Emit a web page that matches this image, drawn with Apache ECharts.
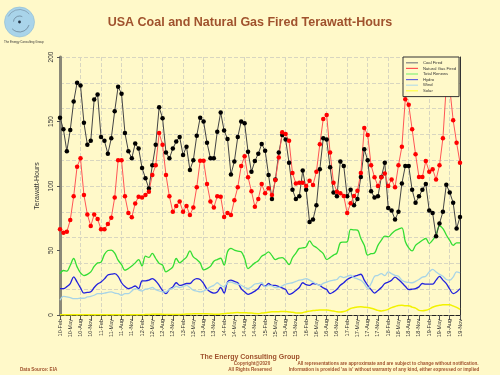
<!DOCTYPE html>
<html>
<head>
<meta charset="utf-8">
<script src="https://cdn.jsdelivr.net/npm/echarts@6/dist/echarts.min.js"></script>
<style>
  html, body { margin: 0; padding: 0; background: #FFF9C9; }
  #chart { width: 500px; height: 375px; }
</style>
</head>
<body>
<div id="chart"></div>
<script>
// monthly data, Feb 2010 .. Nov 2019 (TWh)
const monthNames = ['Jan', 'Feb', 'Mar', 'Apr', 'May', 'Jun', 'Jul', 'Aug', 'Sep', 'Oct', 'Nov', 'Dec'];

const coal = [
  153, 144, 127, 143.5, 165.5, 180, 178, 149, 132, 135,
  167, 171, 138, 135, 125, 137, 158, 177, 171.5, 141,
  127, 121.5, 133, 129, 114, 106, 98, 116, 132, 161,
  152.5, 126, 121.5, 129, 134.5, 138, 124, 130.5, 112.5, 120,
  139, 153, 150, 133.6, 121.5, 121.5, 142, 157, 143, 136.5,
  109, 119, 138, 150, 148.7, 126.6, 111, 119.4, 125, 132.6,
  127.4, 108.5, 90, 105, 126, 139.6, 136, 118, 97, 90,
  92, 112, 97, 72, 74, 85, 113, 137, 136, 114.5,
  95, 92, 119, 115.5, 92, 97, 85, 90, 107, 128.5,
  120, 96, 91, 92, 107, 118, 83, 81, 74, 80,
  102, 115.5, 115.5, 97, 87, 92, 97, 101.6, 81, 79,
  61, 71, 80, 101, 95, 87, 67, 76
];

const gas = [
  66.4, 63.7, 64.5, 73.6, 92, 115, 121.5, 93, 78, 69,
  78, 74.4, 66.4, 66.4, 70.5, 75.4, 91, 120, 120, 92,
  79, 75.7, 86.5, 91.7, 91, 93, 95.6, 108.5, 116, 141,
  132, 108.5, 92, 80, 84.5, 88, 80, 84.5, 77.5, 83.4,
  99, 119.5, 119.5, 101.6, 88, 83.4, 92, 91.7, 76, 79,
  77.5, 89, 99, 115.5, 123, 106.8, 96, 84, 90, 101.6,
  94.3, 98.2, 93, 104.6, 122, 141.7, 140.4, 135, 110, 102,
  102.6, 102.6, 100, 104, 100.8, 111, 132.4, 152, 155, 126,
  102.6, 95.6, 94.3, 92.2, 79, 86.6, 92.2, 96.3, 110, 145,
  139.6, 116, 106.8, 100, 106.8, 109.6, 100, 105, 99, 116,
  130.5, 167.3, 163, 144, 124.6, 107, 107, 119.4, 111, 113,
  105, 116, 137, 178, 176, 151, 133.6, 118
];

const renewables = [
  32, 34.5, 34, 38.6, 43.8, 37.3, 32.6, 30.6, 31.5, 33.4,
  37.7, 40.4, 41, 47, 50, 50.3, 48, 42.5, 39, 34.7,
  36, 38, 40.4, 43, 38, 45.6, 44.6, 47.7, 43.8, 40,
  38.6, 33.4, 35, 37.3, 43.8, 40.4, 42.5, 44.8, 49.7, 45,
  43, 40.4, 35, 36, 37.7, 41.7, 43, 44, 38.6, 49,
  51.6, 50.3, 49.5, 49, 43.8, 36, 38, 40.4, 42, 45.6,
  47, 49, 46, 43, 44, 44.4, 42.4, 39, 44.4, 48,
  51.6, 52, 52.8, 57.5, 54, 52.3, 50, 47.6, 43, 44.5,
  46.4, 48, 56, 56.5, 56.7, 66.4, 66, 65.8, 59.3, 54,
  46.4, 47.5, 48, 54, 58, 61.2, 60.6, 63, 65.3, 66.5,
  67.6, 57, 52, 49.7, 54, 56, 57.9, 59.3, 55.4, 58,
  62, 69, 67, 62, 57.9, 54, 55.9, 55.9
];

const hydro = [
  20.5, 20.5, 22, 24.4, 29.5, 25.6, 21, 17, 17.5, 18,
  21.3, 24, 25.6, 28, 31, 31.6, 32, 30, 25, 22,
  20.5, 21.3, 22.5, 20.5, 26.4, 26.5, 27, 28.2, 26.4, 23,
  19, 16.6, 20, 21.8, 25, 23, 23.5, 24.4, 24.4, 27,
  28.2, 27.5, 24.4, 20, 17.9, 17, 17.9, 21.3, 17, 25.6,
  27, 26, 25, 20.5, 18, 16, 17, 18.5, 20.5, 23.9,
  22.3, 24.4, 23, 23, 22, 21, 19.7, 16, 17, 19,
  21.3, 25, 23.5, 23, 24.4, 24, 23, 21, 19.7, 16.6,
  17.9, 20, 23, 25, 27.5, 29, 30, 30.8, 31.6, 27,
  23, 19.7, 17, 19, 21.3, 24.4, 25.5, 27, 29.4, 27.5,
  25, 22.3, 19.7, 20, 20.5, 21.8, 24.4, 23.9, 23.9, 23.9,
  27, 30, 27, 24.4, 20, 16.6, 17.9, 20.5
];

const wind = [
  11.4, 14.5, 14, 13.5, 12.7, 12.7, 13, 13, 14, 14.5,
  15.3, 16.6, 16.6, 17, 17.5, 17.9, 17, 16.6, 15.3, 16.6,
  16.6, 18.6, 20.5, 19.5, 18.6, 20, 20.5, 21.3, 19.7, 18.6,
  18, 17.9, 20, 20.5, 22.3, 21.3, 22, 23, 21.3, 19.2,
  18.5, 17.9, 18.6, 20, 21.8, 23, 25, 23, 21.8, 25,
  25.6, 24.5, 23.9, 23, 21.5, 20.5, 21.8, 24, 24.4, 25,
  21.8, 23, 22.5, 21.3, 21.5, 22.5, 23.9, 24.5, 25, 26,
  27, 27.5, 28.2, 27, 25.5, 24, 23, 24.5, 25.5, 26.4,
  27, 27.5, 30, 29, 30, 30.8, 29, 28, 27, 24.4,
  20.5, 24.4, 30, 30.8, 32, 30.5, 33.4, 32, 30.8, 30,
  27, 25.6, 25.3, 25, 26, 27.5, 29.4, 30, 33.4, 35.3,
  33.4, 31.5, 30, 27.5, 27, 29.4, 33.4, 32.6
];

const solar = [
  0.1, 0.1, 0.1, 0.1, 0.1, 0.1, 0.1, 0.1, 0.1, 0.1, 0.1,
  0.1, 0.1, 0.2, 0.2, 0.2, 0.2, 0.2, 0.2, 0.2, 0.2, 0.1, 0.1,
  0.2, 0.2, 0.3, 0.4, 0.5, 0.5, 0.5, 0.5, 0.4, 0.4, 0.3, 0.3,
  0.4, 0.5, 0.7, 0.8, 0.9, 1.0, 0.9, 0.9, 0.9, 0.8, 0.6, 0.5,
  0.8, 1.0, 1.3, 1.5, 1.8, 1.9, 1.7, 1.8, 1.6, 1.5, 1.1, 1.0,
  1.5, 1.7, 2.2, 2.5, 2.6, 2.6, 2.7, 2.7, 2.4, 2.1, 1.6, 1.5,
  1.8, 2.6, 3.0, 3.4, 3.7, 3.9, 3.8, 3.9, 3.5, 3.1, 2.5, 2.3,
  2.7, 3.6, 5.0, 5.7, 6.2, 6.3, 6.0, 5.8, 5.3, 4.5, 3.6, 3.1,
  3.6, 4.4, 5.7, 6.6, 7.4, 7.6, 7.1, 7.2, 6.1, 5.3, 3.6, 3.3,
  3.7, 4.6, 6.0, 7.0, 7.5, 7.9, 8.0, 7.9, 7.0, 5.9, 4.3
];

const seriesNames = ['Coal Fired', 'Natural Gas Fired', 'Total Renews', 'Hydro', 'Wind', 'Solar'];
const yTicks = [0, 50, 100, 150, 200];

// category labels like "10-Feb"
const startYear = 2010, startMonth = 1; // Feb
const categories = coal.map((_, i) => {
  const m = startMonth + i;
  const yy = String(startYear + Math.floor(m / 12)).slice(2);
  return yy + '-' + monthNames[m % 12];
});

const bg = '#FFF9C9';
const font = 'Liberation Sans, Arial, sans-serif';
const brown = '#A0522D';

const chart = echarts.init(document.getElementById('chart'));

const lineSeries = (name, data, color, extra) => Object.assign({
  name: name,
  type: 'line',
  data: data,
  showSymbol: false,
  smooth: 0.35,
  lineStyle: { color: color, width: 1.3 },
  itemStyle: { color: color }
}, extra || {});

chart.setOption({
  animation: false,
  backgroundColor: bg,
  textStyle: { fontFamily: font },
  title: {
    text: 'USA Coal and Natural Gas Fired Terawatt-Hours',
    left: 'center',
    top: 11,
    textStyle: { color: brown, fontSize: 12.5, fontWeight: 'bold', fontFamily: font }
  },
  grid: { left: 60, right: 40, top: 57, bottom: 60 },
  legend: {
    orient: 'vertical',
    left: 403,
    top: 57,
    z: 20,
    backgroundColor: bg,
    borderColor: '#333',
    borderWidth: 1,
    padding: [3, 3, 3, 3],
    itemWidth: 12,
    itemHeight: 1.2,
    itemGap: 0,
    icon: 'rect',
    textStyle: { fontSize: 4.2, lineHeight: 5.6, color: '#333', fontFamily: font },
    data: [
      { name: 'Coal Fired', itemStyle: { color: '#808080' } },
      { name: 'Natural Gas Fired', itemStyle: { color: '#FF5050' } },
      { name: 'Total Renews', itemStyle: { color: '#88EE77' } },
      { name: 'Hydro', itemStyle: { color: '#6666DD' } },
      { name: 'Wind', itemStyle: { color: '#B8DDE8' } },
      { name: 'Solar', itemStyle: { color: '#FFFF44' } }
    ]
  },
  xAxis: [{
    type: 'category',
    data: categories,
    boundaryGap: false,
    axisLine: { lineStyle: { color: '#555533', type: 'dashed', width: 1 } },
    axisTick: { interval: 2, length: 5, lineStyle: { color: '#555' } },
    axisLabel: { interval: 2, rotate: 90, fontSize: 5.5, color: '#333', margin: 4, fontFamily: font },
    splitLine: { show: true, interval: 5, lineStyle: { color: '#D8D6C0', type: 'dashed', width: 1 } }
  }, {
    type: 'category',
    data: categories,
    position: 'top',
    boundaryGap: false,
    axisLine: { lineStyle: { color: '#222', type: 'dashed', width: 1 } },
    axisTick: { show: false },
    axisLabel: { show: false },
    splitLine: { show: false }
  }],
  yAxis: [{
    type: 'value',
    min: yTicks[0],
    max: yTicks[yTicks.length - 1],
    interval: 50,
    name: 'Terawatt-Hours',
    nameLocation: 'middle',
    nameGap: 19,
    nameRotate: 90,
    nameTextStyle: { fontSize: 7, color: '#333', fontFamily: font },
    axisLine: { show: true, lineStyle: { color: '#8A8878', width: 3 } },
    axisTick: { show: true, length: 3, lineStyle: { color: '#555' } },
    axisLabel: { rotate: 90, fontSize: 6.5, color: '#333', margin: 5, fontFamily: font },
    splitLine: { show: false }
  }, {
    type: 'value',
    min: 0,
    max: 200,
    interval: 20,
    position: 'right',
    axisLine: { show: true, lineStyle: { color: '#333', width: 1 } },
    axisTick: { show: false },
    axisLabel: { show: false },
    splitLine: { show: true, lineStyle: { color: '#D8D6C0', type: 'dashed', width: 1 } }
  }],
  series: [
    lineSeries(seriesNames[2], renewables, '#33DD33'),
    lineSeries(seriesNames[3], hydro, '#2222DD'),
    lineSeries(seriesNames[4], wind, '#A8D4E6'),
    lineSeries(seriesNames[5], solar, '#F2F200', { lineStyle: { color: '#F2F200', width: 1.5 } }),
    {
      name: seriesNames[0],
      type: 'line',
      data: coal,
      symbol: 'circle',
      symbolSize: 4.5,
      showAllSymbol: true,
      itemStyle: { color: '#000' },
      lineStyle: { color: '#444', width: 1 },
      z: 3
    },
    {
      name: seriesNames[1],
      type: 'line',
      data: gas,
      symbol: 'circle',
      symbolSize: 4.5,
      showAllSymbol: true,
      itemStyle: { color: '#FF0000' },
      lineStyle: { color: '#FF5555', width: 1 },
      z: 3
    }
  ],
  graphic: [
    // logo
    { type: 'circle', shape: { cx: 19.5, cy: 22, r: 15 }, style: { fill: '#A9D4EA', stroke: '#8DBBD3', lineWidth: 0.6 } },
    { type: 'arc', shape: { cx: 19.5, cy: 22, r: 10, startAngle: 0.3, endAngle: 2.4 }, style: { stroke: '#445566', lineWidth: 0.5, fill: null } },
    { type: 'arc', shape: { cx: 19.5, cy: 22, r: 6, startAngle: 3.2, endAngle: 5.2 }, style: { stroke: '#445566', lineWidth: 0.5, fill: null } },
    { type: 'arc', shape: { cx: 19.5, cy: 22, r: 12.5, startAngle: 3.6, endAngle: 5.6 }, style: { stroke: '#556677', lineWidth: 0.4, fill: null } },
    { type: 'circle', shape: { cx: 19.5, cy: 22, r: 1.4 }, style: { fill: '#223344' } },
    { type: 'text', left: 4, top: 41, style: { text: 'The Energy Consulting Group', fontSize: 3, fill: '#333', font: '3px ' + font } },
    // footer
    { type: 'text', x: 250, y: 357, style: { text: 'The Energy Consulting Group', align: 'center', verticalAlign: 'middle', fill: brown, font: 'bold 7px ' + font } },
    { type: 'text', x: 252, y: 363.5, style: { text: 'Copyright@2020', align: 'center', verticalAlign: 'middle', fill: brown, font: 'bold 4.6px ' + font } },
    { type: 'text', x: 250, y: 370, style: { text: 'All Rights Reserved', align: 'center', verticalAlign: 'middle', fill: brown, font: 'bold 4.6px ' + font } },
    { type: 'text', x: 20, y: 370, style: { text: 'Data Source: EIA', align: 'left', verticalAlign: 'middle', fill: brown, font: 'bold 4.6px ' + font } },
    { type: 'text', x: 388, y: 363.5, style: { text: 'All representations are approximate and are subject to change without notification.', align: 'center', verticalAlign: 'middle', fill: brown, font: 'bold 4.6px ' + font } },
    { type: 'text', x: 384, y: 370, style: { text: "Information is provided 'as is' without warranty of any kind, either expressed or implied", align: 'center', verticalAlign: 'middle', fill: brown, font: 'bold 4.6px ' + font } }
  ]
});
</script>
</body>
</html>
